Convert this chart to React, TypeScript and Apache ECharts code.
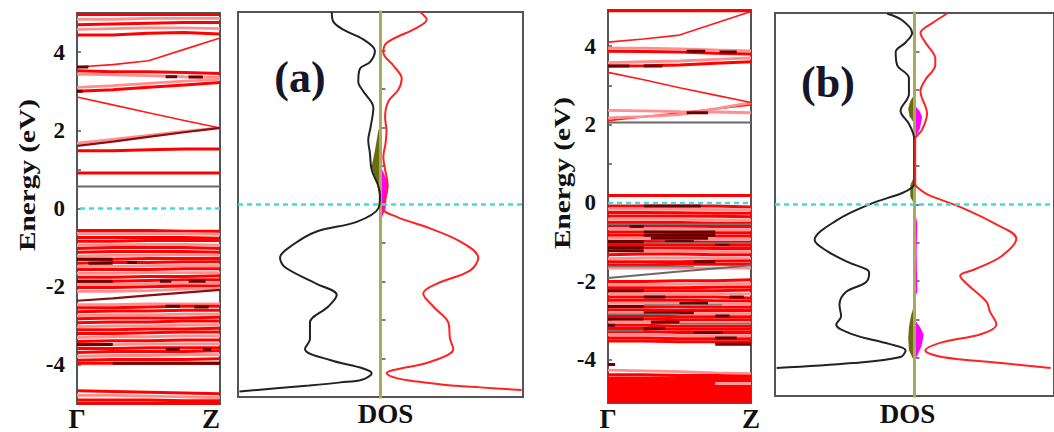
import React, { useEffect, useRef } from "react";
import * as echarts from "echarts";

// ---------------- data ----------------
const K_POINTS = [0, 0.25, 0.5, 0.75, 1];
const K_LABELS = ["Γ", "Z"];
const Y_TICK_LABELS = [-4, -2, 0, 2, 4];

// band structure (a): energies at K_POINTS
const bandsA = [
  [0.56, 0.56, 0.56, 0.56, 0.56],
  [0.91, 0.91, 0.91, 0.91, 0.91],
  [1.48, 1.48, 1.5, 1.52, 1.52],
  [1.67, 1.77, 1.87, 1.97, 2.06],
  [1.6, 1.71, 1.83, 1.95, 2.06],
  [2.85, 2.65, 2.45, 2.25, 2.06],
  [3.0, 3.04, 3.1, 3.16, 3.22],
  [3.1, 3.14, 3.2, 3.26, 3.3],
  [3.44, 3.42, 3.4, 3.37, 3.35],
  [3.52, 3.5, 3.5, 3.48, 3.45],
  [3.62, 3.68, 3.78, 4.07, 4.36],
  [4.44, 4.44, 4.48, 4.5, 4.46],
  [4.58, 4.6, 4.62, 4.62, 4.6],
  [4.7, 4.72, 4.74, 4.76, 4.76],
  [4.84, 4.84, 4.86, 4.86, 4.86],
  [4.96, 4.96, 4.96, 4.96, 4.96],
  [-0.56, -0.56, -0.56, -0.58, -0.58],
  [-0.64, -0.64, -0.64, -0.64, -0.66],
  [-0.74, -0.74, -0.74, -0.74, -0.76],
  [-0.84, -0.84, -0.82, -0.82, -0.82],
  [-0.94, -0.93, -0.92, -0.92, -0.94],
  [-1.02, -1.0, -1.0, -1.0, -1.02],
  [-1.12, -1.1, -1.1, -1.1, -1.12],
  [-1.22, -1.2, -1.2, -1.18, -1.2],
  [-1.3, -1.3, -1.28, -1.28, -1.28],
  [-1.4, -1.38, -1.38, -1.36, -1.36],
  [-1.48, -1.48, -1.46, -1.46, -1.46],
  [-1.56, -1.56, -1.56, -1.54, -1.54],
  [-1.66, -1.66, -1.64, -1.64, -1.64],
  [-1.76, -1.76, -1.74, -1.74, -1.72],
  [-1.86, -1.86, -1.84, -1.82, -1.82],
  [-1.94, -1.94, -1.92, -1.92, -1.9],
  [-2.02, -2.02, -2.0, -1.98, -1.98],
  [-2.12, -2.12, -2.1, -2.06, -2.04],
  [-2.36, -2.3, -2.22, -2.15, -2.08],
  [-2.46, -2.46, -2.44, -2.44, -2.44],
  [-2.54, -2.54, -2.52, -2.5, -2.5],
  [-2.64, -2.62, -2.62, -2.6, -2.6],
  [-2.74, -2.72, -2.72, -2.7, -2.7],
  [-2.82, -2.8, -2.8, -2.8, -2.78],
  [-2.92, -2.9, -2.9, -2.88, -2.88],
  [-3.02, -3.0, -3.0, -2.98, -2.98],
  [-3.1, -3.1, -3.08, -3.08, -3.06],
  [-3.2, -3.2, -3.18, -3.16, -3.16],
  [-3.3, -3.28, -3.28, -3.26, -3.26],
  [-3.4, -3.38, -3.38, -3.36, -3.36],
  [-3.5, -3.48, -3.46, -3.46, -3.46],
  [-3.58, -3.58, -3.56, -3.56, -3.56],
  [-3.68, -3.66, -3.66, -3.66, -3.64],
  [-3.78, -3.76, -3.76, -3.74, -3.74],
  [-3.88, -3.86, -3.86, -3.86, -3.84],
  [-3.96, -3.96, -3.96, -3.96, -3.96],
  [-4.66, -4.68, -4.7, -4.72, -4.74],
  [-4.78, -4.78, -4.8, -4.82, -4.84],
  [-4.9, -4.9, -4.9, -4.92, -4.92],
  [-4.98, -4.98, -4.98, -4.98, -4.98],
];
const bandsAKind = "GRRPDrRPPRrRPRPRRPRRPRRPRRPRPRRPRPDPRRPRRPRRPRPRRPRRRPRR".split("");

// dark-weighted segments (a): [k0, k1, E]
const patchesA = [
  [0.0, 0.25, -1.3], [0.08, 0.25, -1.4], [0.35, 0.42, -1.38], [0.0, 0.25, -1.86],
  [0.58, 0.66, -1.86], [0.78, 0.9, -1.86], [0.62, 0.72, -2.5], [0.82, 0.92, -2.52],
  [0.0, 0.25, -3.48], [0.62, 0.72, -3.6], [0.88, 0.94, -3.6], [0.25, 1.0, -3.96],
  [0.62, 0.7, 3.37], [0.78, 0.88, 3.36], [0.0, 0.04, 3.0], [0.0, 0.08, 3.62],
];

// band structure (b)
const bandsB = [
  [0.19, 0.19, 0.19, 0.19, 0.19],
  [2.05, 2.05, 2.05, 2.05, 2.05],
  [2.1, 2.2, 2.3, 2.4, 2.5],
  [2.36, 2.35, 2.33, 2.32, 2.3],
  [2.17, 2.2, 2.25, 2.4, 2.56],
  [3.33, 3.14, 2.94, 2.75, 2.56],
  [3.49, 3.5, 3.52, 3.56, 3.6],
  [3.58, 3.6, 3.62, 3.66, 3.7],
  [3.87, 3.86, 3.85, 3.82, 3.8],
  [3.95, 3.95, 3.93, 3.9, 3.88],
  [4.1, 4.18, 4.28, 4.58, 4.88],
  [4.9, 4.9, 4.9, 4.9, 4.9],
  [-0.08, -0.08, -0.08, -0.08, -0.1],
  [-0.16, -0.16, -0.16, -0.17, -0.17],
  [-0.24, -0.24, -0.25, -0.26, -0.26],
  [-0.33, -0.33, -0.33, -0.34, -0.35],
  [-0.42, -0.42, -0.42, -0.43, -0.44],
  [-0.5, -0.5, -0.5, -0.52, -0.52],
  [-0.58, -0.58, -0.59, -0.6, -0.6],
  [-0.66, -0.66, -0.67, -0.68, -0.68],
  [-0.74, -0.74, -0.75, -0.76, -0.76],
  [-0.82, -0.82, -0.83, -0.84, -0.84],
  [-0.9, -0.9, -0.91, -0.92, -0.92],
  [-0.98, -0.98, -0.99, -1.0, -1.0],
  [-1.06, -1.06, -1.07, -1.08, -1.08],
  [-1.14, -1.14, -1.15, -1.16, -1.16],
  [-1.22, -1.22, -1.23, -1.24, -1.24],
  [-1.32, -1.3, -1.3, -1.32, -1.32],
  [-1.42, -1.4, -1.4, -1.4, -1.42],
  [-1.5, -1.5, -1.5, -1.48, -1.48],
  [-1.58, -1.58, -1.56, -1.56, -1.56],
  [-1.66, -1.66, -1.66, -1.66, -1.66],
  [-1.91, -1.83, -1.75, -1.67, -1.59],
  [-2.0, -2.0, -1.98, -1.98, -1.96],
  [-2.08, -2.08, -2.07, -2.06, -2.06],
  [-2.16, -2.16, -2.16, -2.15, -2.14],
  [-2.24, -2.24, -2.24, -2.24, -2.22],
  [-2.32, -2.32, -2.32, -2.32, -2.32],
  [-2.4, -2.4, -2.4, -2.4, -2.42],
  [-2.48, -2.48, -2.48, -2.49, -2.5],
  [-2.56, -2.56, -2.56, -2.58, -2.58],
  [-2.64, -2.64, -2.65, -2.66, -2.66],
  [-2.72, -2.72, -2.74, -2.74, -2.74],
  [-2.8, -2.8, -2.82, -2.82, -2.82],
  [-2.88, -2.88, -2.9, -2.9, -2.9],
  [-2.96, -2.96, -2.98, -2.98, -2.98],
  [-3.04, -3.04, -3.06, -3.06, -3.06],
  [-3.12, -3.12, -3.14, -3.14, -3.14],
  [-3.2, -3.2, -3.22, -3.22, -3.22],
  [-3.28, -3.28, -3.3, -3.3, -3.3],
  [-3.36, -3.36, -3.38, -3.38, -3.38],
  [-3.44, -3.44, -3.46, -3.46, -3.46],
  [-3.52, -3.52, -3.54, -3.54, -3.54],
  [-4.26, -4.28, -4.3, -4.33, -4.35],
  [-4.38, -4.38, -4.4, -4.4, -4.42],
  [-4.48, -4.48, -4.48, -4.48, -4.48],
  [-4.56, -4.56, -4.56, -4.56, -4.56],
  [-4.64, -4.64, -4.64, -4.64, -4.64],
  [-4.72, -4.72, -4.72, -4.72, -4.72],
  [-4.8, -4.8, -4.8, -4.8, -4.8],
  [-4.88, -4.88, -4.88, -4.88, -4.88],
  [-4.96, -4.96, -4.96, -4.96, -4.96],
  [-5.04, -5.04, -5.04, -5.04, -5.04],
];
const bandsBKind = "RGrPPrRPRPrRRPRRPRRPRRPRRRPRPRRPGRPRRPRRPRRPRRPRRRPRRPRSSSSSSSS".split("");

const patchesB = [
  [0.25, 0.65, -0.08], [0.15, 0.25, -0.6], [0.25, 0.75, -0.74], [0.25, 0.75, -0.82],
  [0.3, 0.7, -0.9], [0.0, 0.25, -1.14], [0.0, 0.25, -1.22], [0.6, 0.75, -1.5],
  [0.0, 0.25, -2.24], [0.25, 0.4, -2.4], [0.0, 0.25, -2.64], [0.25, 0.6, -2.8],
  [0.75, 0.85, -2.88], [0.0, 0.05, -3.12], [0.25, 0.4, -3.2], [0.6, 0.8, -3.3],
  [0.75, 0.9, -3.44], [0.75, 1.0, -3.6], [0.0, 0.05, -4.12], [0.0, 0.15, 3.49],
  [0.25, 0.38, 3.49], [0.55, 0.68, 3.87], [0.78, 0.9, 3.85], [0.55, 0.7, 2.3],
  [0.0, 0.25, -0.98], [0.4, 0.6, -0.98], [0.75, 0.85, -1.06], [0.0, 0.25, -2.96],
  [0.3, 0.5, -3.04], [0.5, 0.7, -2.56], [0.85, 0.95, -2.4],
];
const patchesBGray = [
  [0.0, 1.0, -0.54], [0.25, 1.0, -1.02], [0.0, 0.6, -1.62], [0.25, 0.8, -2.6],
  [0.0, 0.5, -2.84], [0.5, 1.0, -3.08], [0.0, 0.25, -3.26],
];
const patchesBPink = [[0.75, 1.0, -4.6]];

// DOS (a): [E, DOS] pairs; spin-down (black) negative, spin-up (red) positive
const dosADown = [
  [5.0, -3.42], [4.75, -3.31], [4.54, -2.61], [4.29, -1.21], [3.99, -0.39], [3.7, -0.74],
  [3.53, -1.44], [3.19, -1.56], [2.94, -1.21], [2.51, -0.5], [2.0, -0.7], [1.67, -0.86],
  [1.33, -0.74], [0.9, -0.62], [0.48, -0.15], [0.23, -0.04], [-0.1, -0.15], [-0.45, -1.67],
  [-0.7, -4.48], [-1.04, -6.12], [-1.38, -7.05], [-1.63, -6.7], [-2.06, -4.48], [-2.35, -3.07],
  [-2.65, -3.66], [-3.07, -4.95], [-3.49, -4.95], [-3.75, -5.3], [-4.04, -3.54], [-4.26, -1.21],
  [-4.38, -0.62], [-4.55, -1.3], [-4.62, -2.8], [-4.7, -5.0], [-4.78, -7.5], [-4.86, -9.9],
];
const dosAUp = [
  [5.0, 2.77], [4.8, 3.24], [4.59, 2.54], [4.2, 0.44], [3.95, 0.2], [3.61, 0.9],
  [3.27, 1.49], [2.98, 1.25], [2.68, 0.55], [2.26, 0.32], [1.92, 0.42], [1.58, 0.35],
  [1.24, 0.2], [0.48, 0.5], [-0.1, 0.18], [-0.32, 1.14], [-0.62, 3.47], [-0.96, 5.58],
  [-1.38, 6.86], [-1.72, 6.28], [-2.06, 3.94], [-2.31, 3.0], [-2.65, 3.7], [-3.07, 4.76],
  [-3.49, 4.88], [-3.75, 5.11], [-4.09, 3.47], [-4.3, 0.9], [-4.38, 0.44], [-4.51, 1.14],
  [-4.6, 2.6], [-4.68, 4.4], [-4.75, 7.0], [-4.82, 9.9],
];
const dosAOliveFill = [
  [2.09, 0], [1.92, -0.15], [1.41, -0.39], [0.99, -0.62], [0.57, -0.27], [0.15, -0.04], [0.06, 0],
];
const dosAMagentaFill = [
  [1.0, 0], [0.74, 0.32], [0.48, 0.55], [0.15, 0.42], [-0.1, 0.35], [-0.45, 0],
];

// DOS (b)
const dosBDown = [
  [4.98, -1.95], [4.81, -0.88], [4.48, -0.17], [4.23, -0.64], [3.98, -1.35], [3.64, -1.24],
  [3.3, -0.4], [2.88, -0.4], [2.45, -1.0], [2.11, -0.4], [1.86, -0.1], [1.7, -0.02],
  [0.55, -0.02], [0.45, -0.15], [0.3, -0.88], [0.0, -3.25], [-0.42, -5.61], [-0.93, -7.16],
  [-1.23, -6.21], [-1.52, -4.67], [-1.78, -3.25], [-2.03, -3.48], [-2.28, -4.9], [-2.62, -5.38],
  [-2.92, -5.26], [-3.13, -5.61], [-3.39, -4.43], [-3.64, -1.83], [-3.81, -0.64], [-3.98, -1.0],
  [-4.14, -4.43], [-4.27, -9.88],
];
const dosBUp = [
  [4.98, 2.32], [4.73, 1.25], [4.48, 0.43], [4.23, 0.78], [3.81, 1.49], [3.64, 1.49],
  [3.26, 0.78], [2.96, 0.43], [2.37, 0.9], [1.95, 0.54], [1.7, 0.05], [0.55, 0.05],
  [0.45, 0.2], [0.25, 1.0], [-0.08, 3.38], [-0.5, 5.76], [-0.89, 7.3], [-1.35, 6.23],
  [-1.69, 4.34], [-1.86, 3.27], [-2.11, 3.86], [-2.54, 5.16], [-2.79, 5.4], [-3.13, 5.87],
  [-3.38, 4.8], [-3.6, 1.96], [-3.81, 0.78], [-3.98, 1.96], [-4.14, 6.23], [-4.27, 9.76],
];
const dosBOliveFills = [
  [[2.88, 0], [2.7, -0.3], [2.5, -0.45], [2.3, -0.35], [2.11, 0]],
  [[0.76, 0], [0.5, -0.3], [0.2, -0.3], [0.0, 0]],
  [[-2.6, 0], [-2.9, -0.25], [-3.2, -0.4], [-3.5, -0.45], [-3.8, -0.4], [-4.0, -0.15], [-4.1, 0]],
];
const dosBMagentaFills = [
  [[2.6, 0], [2.45, 0.35], [2.3, 0.54], [2.0, 0.4], [1.7, 0]],
  [[-0.1, 0], [-0.5, 0.2], [-1.2, 0.15], [-2.3, 0.2], [-2.4, 0]],
  [[-3.0, 0], [-3.2, 0.4], [-3.4, 0.66], [-3.7, 0.5], [-3.95, 0.2], [-4.05, 0]],
];

// ---------------- styling ----------------
const SERIF = "'Liberation Serif', 'Times New Roman', serif";
const KIND_COLOR: Record<string, string> = {
  R: "#ff0000", r: "#ff1a1a", P: "#ff8e8e", D: "#8a1010", G: "#6a6a6a", K: "#222222", S: "#ff0000",
};
const KIND_WIDTH: Record<string, number> = { R: 3, r: 1.6, P: 2.8, D: 2.2, G: 2, K: 2, S: 4.2 };

export default function App() {
  const ref = useRef<HTMLDivElement>(null);
  useEffect(() => {
    if (!ref.current) return;
    const chart = echarts.init(ref.current, null, { renderer: "svg" });

    const series: any[] = [];
    const bandLines = (bands: number[][], kinds: string[], idx: number) => {
      bands.forEach((b, i) => {
        const k = kinds[i] || "R";
        series.push({
          type: "line", xAxisIndex: idx, yAxisIndex: idx, symbol: "none", silent: true,
          data: K_POINTS.map((kp, j) => [kp, b[j]]),
          lineStyle: { color: KIND_COLOR[k], width: KIND_WIDTH[k] }, z: k === "G" || k === "D" ? 3 : 2,
        });
      });
    };
    const patchLines = (patches: number[][], idx: number, color: string, width: number) => {
      patches.forEach((p) => {
        series.push({
          type: "line", xAxisIndex: idx, yAxisIndex: idx, symbol: "none", silent: true,
          data: [[p[0], p[2]], [p[1], p[2]]], lineStyle: { color, width }, z: 4,
        });
      });
    };
    bandLines(bandsA, bandsAKind, 0);
    patchLines(patchesA, 0, "#6a0000", 3);
    bandLines(bandsB, bandsBKind, 2);
    patchLines(patchesB, 2, "#6a0000", 3);
    patchLines(patchesBGray, 2, "#777777", 1.5);
    patchLines(patchesBPink, 2, "#ff9a9a", 3);

    const fill = (pts: number[][], idx: number, color: string) => {
      series.push({
        type: "custom", xAxisIndex: idx, yAxisIndex: idx, silent: true, z: 3,
        data: [[0, 0]],
        renderItem: (_p: any, api: any) => ({
          type: "polygon",
          shape: { points: pts.map(([e, d]) => api.coord([d, e])) },
          style: { fill: color },
        }),
      });
    };
    fill(dosAOliveFill, 1, "#6b6b12");
    fill(dosAMagentaFill, 1, "#ff00ff");
    dosBOliveFills.forEach((f) => fill(f, 3, "#6b6b12"));
    dosBMagentaFills.forEach((f) => fill(f, 3, "#ff00ff"));

    const curve = (pts: number[][], idx: number, color: string) => {
      series.push({
        type: "line", xAxisIndex: idx, yAxisIndex: idx, symbol: "none", silent: true, smooth: 0.35,
        data: pts.map(([e, d]) => [d, e]), lineStyle: { color, width: 2 }, z: 5,
      });
    };
    [1, 3].forEach((idx) => {
      series.push({
        type: "line", xAxisIndex: idx, yAxisIndex: idx, symbol: "none", silent: true,
        data: [[0, -6], [0, 6]], lineStyle: { color: "#aaaa5a", width: 3 }, z: 4,
      });
    });
    curve(dosADown, 1, "#222222");
    curve(dosAUp, 1, "#ff2222");
    curve(dosBDown, 3, "#222222");
    curve(dosBUp, 3, "#ff2222");

    // Fermi level
    [[0, 1, 0], [1, -10, 10], [2, 0, 1], [3, -10, 10]].forEach(([idx, a, b]) => {
      series.push({
        type: "line", xAxisIndex: idx, yAxisIndex: idx, symbol: "none", silent: true,
        data: [[a, 0], [b, 0]], lineStyle: { color: "#3fdcdc", width: 2.5, type: [5, 4] }, z: 6,
      });
    });

    const grids = [
      { left: 77, top: 13, width: 143, height: 394 },
      { left: 238, top: 12, width: 285, height: 394 },
      { left: 608, top: 10, width: 143, height: 395 },
      { left: 775, top: 13, width: 282, height: 393 },
    ].map((g) => ({ ...g, show: true, borderColor: "#555", borderWidth: 2, backgroundColor: "transparent" }));

    const bigLabel = { fontFamily: SERIF, fontWeight: "bold" as const, fontSize: 27, color: "#111" };
    const xAxes = [
      {
        gridIndex: 0, type: "value", min: 0, max: 1, interval: 1,
        axisLine: { show: false }, axisTick: { show: false }, splitLine: { show: false },
        axisLabel: { ...bigLabel, margin: 1, formatter: (v: number) => (v === 0 ? K_LABELS[0] : K_LABELS[1]), alignMaxLabel: "right" },
      },
      {
        gridIndex: 1, type: "value", min: -10, max: 10,
        axisLine: { show: false }, axisTick: { show: false }, splitLine: { show: false }, axisLabel: { show: false },
        name: "DOS", nameLocation: "middle", nameGap: 3, nameTextStyle: { ...bigLabel, verticalAlign: "top", padding: [0, 0, 0, 10] },
      },
      {
        gridIndex: 2, type: "value", min: 0, max: 1, interval: 1,
        axisLine: { show: false }, axisTick: { show: false }, splitLine: { show: false },
        axisLabel: { ...bigLabel, margin: 2, formatter: (v: number) => (v === 0 ? K_LABELS[0] : K_LABELS[1]) },
      },
      {
        gridIndex: 3, type: "value", min: -10, max: 10,
        axisLine: { show: false }, axisTick: { show: false }, splitLine: { show: false }, axisLabel: { show: false },
        name: "DOS", nameLocation: "middle", nameGap: 4, nameTextStyle: { ...bigLabel, verticalAlign: "top", padding: [0, 14, 0, 0] },
      },
    ];
    const tickLabel = { fontFamily: SERIF, fontWeight: "bold" as const, fontSize: 23, color: "#111", margin: 12 };
    const yAxes = [
      {
        gridIndex: 0, type: "value", min: -5, max: 5, interval: 1,
        axisLine: { show: false }, splitLine: { show: false },
        axisTick: { inside: true, length: 4, lineStyle: { color: "#555", width: 1.5 } },
        axisLabel: { ...tickLabel, formatter: (v: number) => (Y_TICK_LABELS.includes(v) ? String(v) : "") },
      },
      {
        gridIndex: 1, type: "value", min: -5, max: 5, interval: 1,
        axisLine: { show: false }, splitLine: { show: false }, axisLabel: { show: false },
        axisTick: { inside: true, length: 5, lineStyle: { color: "#555", width: 1.5 } },
      },
      {
        gridIndex: 2, type: "value", min: -5.1, max: 4.92,
        axisLine: { show: false }, splitLine: { show: false },
        axisTick: { inside: true, length: 4, lineStyle: { color: "#555", width: 1.5 }, customValues: [-5, -4, -3, -2, -1, 0, 1, 2, 3, 4] },
        axisLabel: { ...tickLabel, customValues: Y_TICK_LABELS, formatter: (v: number) => String(v) },
      },
      {
        gridIndex: 3, type: "value", min: -5, max: 5, interval: 1,
        axisLine: { show: false }, splitLine: { show: false }, axisLabel: { show: false },
        axisTick: { inside: true, length: 5, lineStyle: { color: "#555", width: 1.5 } },
      },
    ];

    const energyText = (x: number, y: number) => ({
      type: "text", x, y, rotation: Math.PI / 2, scaleX: 1.22, silent: true,
      style: { text: "Energy (eV)", fontFamily: SERIF, fontWeight: "bold", fontSize: 24, fill: "#111", align: "center", verticalAlign: "middle" },
    });
    const panelText = (x: number, y: number, t: string) => ({
      type: "text", x, y, silent: true,
      style: { text: t, fontFamily: SERIF, fontWeight: "bold", fontSize: 44, fill: "#16162a", align: "center", verticalAlign: "middle" },
    });

    chart.setOption({
      animation: false,
      backgroundColor: "#ffffff",
      grid: grids,
      xAxis: xAxes,
      yAxis: yAxes,
      series,
      graphic: [energyText(27, 175), energyText(562, 173), panelText(300, 77, "(a)"), panelText(828, 82, "(b)")],
    });
    return () => chart.dispose();
  }, []);
  return <div ref={ref} style={{ position: "absolute", left: 0, top: 0, width: 1054, height: 432 }} />;
}
